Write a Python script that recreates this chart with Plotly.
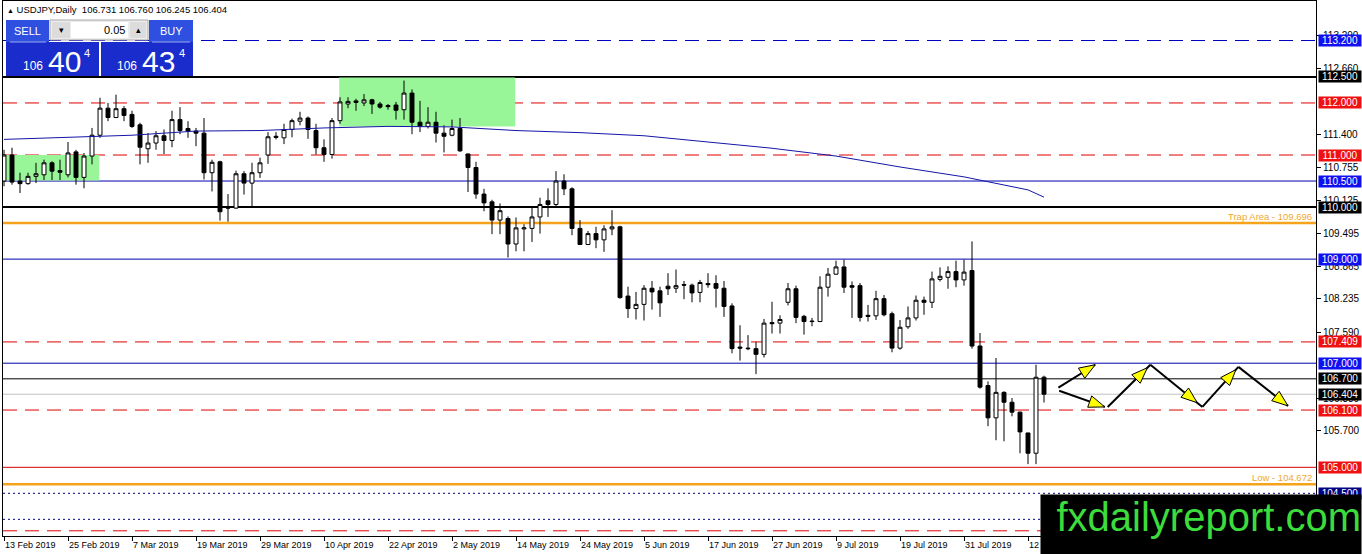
import pandas as pd
import plotly.graph_objects as go

# ---- data -------------------------------------------------------------
start_date = "2019-02-13"
end_date = "2019-08-14"
tick_dates = ["2019-02-13", "2019-02-25", "2019-03-07", "2019-03-19", "2019-03-29",
              "2019-04-10", "2019-04-22", "2019-05-02", "2019-05-14", "2019-05-24",
              "2019-06-05", "2019-06-17", "2019-06-27", "2019-07-09", "2019-07-19",
              "2019-07-31", "2019-08-12"]

opens = [110.50, 111.00, 110.50, 110.45, 110.59, 110.62, 110.85, 110.70, 110.62, 111.06,
         110.57, 110.98, 111.38, 111.90, 111.72, 111.89, 111.78, 111.58, 111.12, 111.23,
         111.37, 111.28, 111.68, 111.51, 111.46, 111.42, 110.66, 110.87, 110.00, 109.98,
         110.64, 110.46, 110.66, 111.00, 111.36, 111.33, 111.49, 111.65, 111.71, 111.47,
         111.14, 111.01, 111.66, 111.98, 112.04, 112.00, 112.06, 111.98, 111.95, 111.96,
         111.87, 112.19, 111.63, 111.55, 111.63, 111.42, 111.38, 111.51, 111.02, 110.76,
         110.25, 110.10, 109.75, 109.78, 109.29, 109.58, 109.59, 109.81, 110.12, 110.05,
         110.50, 110.35, 109.59, 109.28, 109.49, 109.37, 109.58, 109.62, 108.29, 108.05,
         108.13, 108.44, 108.39, 108.48, 108.44, 108.51, 108.50, 108.36, 108.53, 108.53,
         108.44, 108.10, 107.31, 107.29, 107.28, 107.17, 107.78, 107.77, 108.17, 108.43,
         107.90, 107.81, 107.80, 108.46, 108.71, 108.85, 108.49, 108.49, 107.92, 107.91,
         108.24, 107.95, 107.29, 107.70, 107.87, 108.21, 108.17, 108.61, 108.65, 108.76,
         108.60, 108.78, 107.33, 106.57, 105.95, 106.44, 106.25, 106.06, 105.66, 105.27,
         106.731]
highs = [111.10, 111.14, 110.66, 110.66, 110.85, 110.91, 110.88, 110.91, 111.25, 111.10,
         111.04, 111.52, 112.10, 112.00, 112.16, 111.94, 111.85, 111.62, 111.42, 111.46,
         111.49, 111.85, 111.92, 111.65, 111.52, 111.71, 110.91, 110.89, 110.25, 110.70,
         110.69, 110.85, 110.95, 111.44, 111.44, 111.60, 111.70, 111.83, 111.74, 111.60,
         111.30, 111.71, 112.11, 112.11, 112.08, 112.17, 112.08, 112.02, 111.98, 112.02,
         112.43, 112.26, 112.04, 111.92, 111.83, 111.57, 111.68, 111.71, 111.03, 110.87,
         110.35, 110.14, 110.07, 109.82, 109.80, 109.67, 110.01, 110.18, 110.36, 110.69,
         110.63, 110.38, 109.75, 109.54, 109.62, 109.65, 109.94, 109.64, 108.47, 108.37,
         108.50, 108.58, 108.47, 108.73, 108.80, 108.58, 108.53, 108.60, 108.73, 108.69,
         108.58, 108.15, 107.73, 107.54, 107.41, 107.85, 108.18, 107.92, 108.54, 108.49,
         107.93, 107.87, 108.67, 108.83, 108.97, 108.99, 108.57, 108.54, 108.12, 108.39,
         108.31, 107.99, 107.83, 108.09, 108.30, 108.28, 108.76, 108.84, 108.86, 108.97,
         108.99, 109.34, 107.58, 106.65, 107.10, 106.46, 106.33, 106.07, 105.66, 106.97,
         106.760]
lows = [110.40, 110.43, 110.27, 110.43, 110.46, 110.52, 110.52, 110.52, 110.57, 110.43,
        110.36, 110.82, 111.33, 111.65, 111.71, 111.65, 111.52, 110.82, 110.85, 111.10,
        111.02, 111.15, 111.40, 111.33, 111.17, 110.53, 110.30, 109.74, 109.72, 109.97,
        110.24, 110.02, 110.56, 110.83, 111.30, 111.21, 111.34, 111.57, 111.31, 111.01,
        110.87, 110.93, 111.60, 111.90, 111.85, 111.94, 111.79, 111.89, 111.87, 111.68,
        111.68, 111.40, 111.44, 111.51, 111.24, 111.05, 111.36, 111.06, 110.29, 110.16,
        109.92, 109.48, 109.48, 109.03, 109.15, 109.15, 109.33, 109.49, 109.81, 110.00,
        110.23, 109.46, 109.27, 109.27, 109.21, 109.14, 109.46, 108.24, 107.87, 107.84,
        107.82, 108.03, 107.89, 108.31, 108.35, 108.23, 108.17, 108.17, 108.45, 108.07,
        107.89, 107.19, 107.05, 107.25, 106.79, 107.11, 107.57, 107.57, 108.11, 107.77,
        107.55, 107.71, 107.79, 108.28, 108.70, 108.35, 107.87, 107.80, 107.80, 107.83,
        107.90, 107.21, 107.26, 107.66, 107.82, 107.93, 108.06, 108.57, 108.43, 108.46,
        108.49, 107.28, 106.51, 105.79, 105.52, 105.50, 105.98, 105.27, 105.06, 105.06,
        106.245]
closes = [111.00, 110.48, 110.45, 110.59, 110.64, 110.85, 110.69, 110.67, 111.04, 110.57,
          110.98, 111.38, 111.90, 111.72, 111.89, 111.76, 111.55, 111.15, 111.23, 111.37,
          111.28, 111.68, 111.47, 111.46, 111.42, 110.66, 110.86, 109.91, 109.98, 110.64,
          110.46, 110.66, 110.85, 111.35, 111.34, 111.49, 111.66, 111.71, 111.49, 111.14,
          111.01, 111.66, 112.02, 112.03, 112.01, 112.06, 111.98, 111.92, 111.93, 111.86,
          112.19, 111.63, 111.55, 111.63, 111.42, 111.36, 111.51, 111.08, 110.76, 110.25,
          110.08, 109.75, 109.93, 109.29, 109.60, 109.60, 109.81, 110.05, 110.05, 110.50,
          110.35, 109.59, 109.28, 109.49, 109.37, 109.58, 109.62, 108.26, 108.05, 108.13,
          108.44, 108.37, 108.16, 108.43, 108.49, 108.50, 108.35, 108.55, 108.51, 108.44,
          108.09, 107.28, 107.29, 107.28, 107.17, 107.77, 107.76, 107.84, 108.43, 107.88,
          107.80, 107.80, 108.46, 108.71, 108.85, 108.46, 108.46, 107.88, 107.90, 108.24,
          107.93, 107.29, 107.69, 107.87, 108.21, 108.17, 108.62, 108.67, 108.76, 108.60,
          108.75, 107.33, 106.54, 105.95, 106.44, 106.25, 106.06, 105.68, 105.27, 106.73,
          106.404]

# moving average read every 8 bars
ma_bars = [0, 8, 16, 24, 32, 40, 48, 56, 64, 72, 80, 88, 96, 104, 112, 120, 128, 130]
ma_values = [111.30, 111.34, 111.38, 111.46, 111.47, 111.52, 111.55, 111.54, 111.47, 111.43,
             111.37, 111.25, 111.13, 110.98, 110.77, 110.58, 110.33, 110.19]

# horizontal levels
level_prices = [113.200, 112.500, 112.000, 111.000, 110.500, 110.000, 109.696, 109.000,
                107.409, 107.000, 106.700, 106.404, 106.100, 105.000, 104.672, 104.500,
                104.000, 103.780]
level_colors = ["#0000c0", "#000000", "#e00000", "#e00000", "#0000b0", "#000000", "#f5a31a",
                "#0000b0", "#e00000", "#0000b0", "#000000", "#c0c0c0", "#e00000", "#d00000",
                "#f5a31a", "#000080", "#000080", "#e00000"]
level_widths = [1, 2, 1, 1, 1, 2, 2.5, 1, 1, 1, 1, 1, 1, 1, 2.5, 1, 1, 1]
level_dashes = ["14px,8px", "solid", "14px,8px", "14px,8px", "solid", "solid", "solid", "solid",
                "14px,8px", "solid", "solid", "solid", "14px,8px", "solid", "solid", "2px,3px",
                "2px,3px", "14px,8px"]

# price tags on the right scale
tag_prices = [113.200, 112.500, 112.000, 111.000, 110.500, 110.000, 109.000, 107.409,
              107.000, 106.700, 106.404, 106.100, 105.000, 104.500]
tag_colors = ["#1010f0", "#000000", "#f01010", "#f01010", "#1010f0", "#000000", "#1010f0",
              "#f01010", "#1010f0", "#000000", "#000000", "#f01010", "#f01010", "#000080"]

# visible ticks of the price scale
y_ticks = [113.290, 112.660, 111.400, 110.755, 110.125, 109.495, 108.865,
           108.235, 107.590, 106.330, 105.700]

# green zones (bar from, bar to, price low, price high)
zone_x0 = [-0.2, 41.9]
zone_x1 = [11.9, 63.9]
zone_y0 = [110.51, 111.55]
zone_y1 = [111.00, 112.49]

# projected path arrows (bar, price)
arrow_x0 = [131.8, 131.9, 137.96, 143.3, 149.8, 154.3]
arrow_y0 = [106.53, 106.47, 106.16, 106.97, 106.16, 106.93]
arrow_x1 = [136.4, 137.6, 143.3, 149.8, 154.3, 160.5]
arrow_y1 = [106.97, 106.16, 106.97, 106.16, 106.93, 106.18]
arrow_tip = [1.0, 1.0, 0.93, 0.9, 0.93, 1.0]

# ---- geometry ----------------------------------------------------------
W, H = 1362, 554
ML, MR, MT, MB = 3, 46, 1, 18
PW, PH = W - ML - MR, H - MT - MB
X_RANGE = [-0.125, -0.125 + PW / 8]
Y_RANGE = [103.68, 113.959]
PX_PER_BAR = PW / (X_RANGE[1] - X_RANGE[0])
PX_PER_PRICE = PH / (Y_RANGE[1] - Y_RANGE[0])


def pxx(px):
    return (px - ML) / PW


def pxy(py):
    return (MT + PH - py) / PH


dates = pd.bdate_range(start_date, end_date)
bars = list(range(len(dates)))
tick_vals = [dates.get_loc(pd.Timestamp(d)) for d in tick_dates]
tick_text = [f"{pd.Timestamp(d).day} {pd.Timestamp(d):%b %Y}" for d in tick_dates]

fig = go.Figure()

fig.add_trace(go.Candlestick(
    x=bars, open=opens, high=highs, low=lows, close=closes,
    increasing=dict(line=dict(color="black", width=1), fillcolor="white"),
    decreasing=dict(line=dict(color="black", width=1), fillcolor="black"),
    whiskerwidth=0, hoverinfo="skip", showlegend=False,
))

fig.add_trace(go.Scatter(
    x=ma_bars, y=ma_values, mode="lines",
    line=dict(color="#1515a8", width=1), hoverinfo="skip", showlegend=False,
))

shapes = []
for x0, x1, y0, y1 in zip(zone_x0, zone_x1, zone_y0, zone_y1):
    shapes.append(dict(type="rect", xref="x", yref="y", x0=x0, x1=x1, y0=y0, y1=y1,
                       fillcolor="#98f598", line=dict(width=0), layer="below"))

for p, c, w, d in zip(level_prices, level_colors, level_widths, level_dashes):
    shapes.append(dict(type="line", xref="paper", yref="y", x0=0, x1=1, y0=p, y1=p,
                       line=dict(color=c, width=w, dash=d), layer="below"))

# arrows: black lines with yellow heads
HEAD_LEN, HEAD_W = 16, 6
for x0, y0, x1, y1, t in zip(arrow_x0, arrow_y0, arrow_x1, arrow_y1, arrow_tip):
    shapes.append(dict(type="line", xref="x", yref="y", x0=x0, y0=y0, x1=x1, y1=y1,
                       line=dict(color="black", width=2), layer="above"))
    dx = (x1 - x0) * PX_PER_BAR
    dy = (y1 - y0) * PX_PER_PRICE
    n = (dx ** 2 + dy ** 2) ** 0.5
    ux, uy = dx / n, dy / n
    tx = x0 + t * (x1 - x0)
    ty = y0 + t * (y1 - y0)
    bx = tx - HEAD_LEN * ux / PX_PER_BAR
    by = ty - HEAD_LEN * uy / PX_PER_PRICE
    ax, ay = bx - HEAD_W * uy / PX_PER_BAR, by + HEAD_W * ux / PX_PER_PRICE
    cx, cy = bx + HEAD_W * uy / PX_PER_BAR, by - HEAD_W * ux / PX_PER_PRICE
    shapes.append(dict(type="path", xref="x", yref="y",
                       path=f"M {tx} {ty} L {ax} {ay} L {cx} {cy} Z",
                       fillcolor="#ffff00", line=dict(color="black", width=1), layer="above"))


# one-click trading panel
def prect(x0, y0, x1, y1, fill, line_color=None):
    return dict(type="rect", xref="paper", yref="paper",
                x0=pxx(x0), x1=pxx(x1), y0=pxy(y1), y1=pxy(y0),
                fillcolor=fill, layer="above",
                line=dict(width=1 if line_color else 0, color=line_color or fill))


shapes += [
    prect(6, 20, 49, 42, "#2f4fe0"),
    prect(149, 20, 193, 42, "#2f4fe0"),
    prect(6, 42, 99, 76, "#1a2ccc"),
    prect(101, 42, 193, 76, "#1a2ccc"),
    prect(50, 20, 148, 40, "#ececec", "#a8a8a8"),
    prect(52, 22, 70, 38, "#dcdcdc"),
    prect(71, 22, 128, 38, "#ffffff"),
    prect(130, 22, 146, 38, "#dcdcdc"),
    dict(type="line", xref="paper", yref="paper", x0=pxx(10), x1=pxx(46), y0=pxy(42), y1=pxy(42),
         line=dict(color="#9aaaf0", width=1), layer="above"),
    dict(type="line", xref="paper", yref="paper", x0=pxx(152), x1=pxx(190), y0=pxy(42), y1=pxy(42),
         line=dict(color="#9aaaf0", width=1), layer="above"),
]

FONT = "Liberation Sans"
ann = []


def ptext(px, py, text, size, color, anchor="center"):
    ann.append(dict(xref="paper", yref="paper", x=pxx(px), y=pxy(py), text=text,
                    showarrow=False, xanchor=anchor, yanchor="middle",
                    font=dict(family=FONT, size=size, color=color)))


ptext(5, 10, "<span style='font-size:7px'>▲</span> USDJPY,Daily  106.731 106.760 106.245 106.404",
      9.5, "black", "left")
ptext(27, 31, "SELL", 11, "white")
ptext(171, 31, "BUY", 11, "white")
ptext(127, 30, "0.05", 11, "black", "right")
ptext(61, 30, "▾", 9, "black")
ptext(138, 30, "▴", 9, "black")
ptext(33, 66, "106", 12, "white")
ptext(64, 61, "40", 30, "white")
ptext(87, 53, "4", 11, "white")
ptext(127, 66, "106", 12, "white")
ptext(158, 61, "43", 30, "white")
ptext(182, 53, "4", 11, "white")

ann.append(dict(xref="paper", yref="y", x=pxx(1314), y=109.696, yshift=6, text="Trap Area - 109.696",
                showarrow=False, xanchor="right", yanchor="middle",
                font=dict(family=FONT, size=9.5, color="#f0a830")))
ann.append(dict(xref="paper", yref="y", x=pxx(1314), y=104.672, yshift=7, text="Low - 104.672",
                showarrow=False, xanchor="right", yanchor="middle",
                font=dict(family=FONT, size=9.5, color="#f0a830")))

for p, c in zip(tag_prices, tag_colors):
    ann.append(dict(xref="paper", yref="y", x=pxx(1318), y=p, text=f"{p:.3f}",
                    showarrow=False, xanchor="left", yanchor="middle", align="center",
                    width=42, height=11, borderpad=0, bgcolor=c,
                    font=dict(family=FONT, size=10, color="white")))

ann.append(dict(xref="paper", yref="paper", x=pxx(1040), y=pxy(494), text="fxdailyreport.com",
                showarrow=False, xanchor="left", yanchor="top", align="right", valign="top",
                width=320, height=62, borderpad=0, bgcolor="black",
                font=dict(family=FONT, size=40, color="#3ddc3d")))

fig.update_layout(
    width=W, height=H,
    margin=dict(l=ML, r=MR, t=MT, b=MB, pad=0),
    paper_bgcolor="white", plot_bgcolor="white",
    font=dict(family=FONT, size=10, color="black"),
    showlegend=False, hovermode=False,
    shapes=shapes, annotations=ann,
    xaxis=dict(range=X_RANGE, rangeslider=dict(visible=False), showgrid=False, zeroline=False,
               showline=True, linecolor="black", linewidth=1, mirror=True,
               ticks="outside", ticklen=4, tickcolor="black",
               tickvals=tick_vals, ticktext=tick_text, ticklabelposition="outside right",
               tickfont=dict(family=FONT, size=9, color="black"), fixedrange=True),
    yaxis=dict(range=Y_RANGE, side="right", showgrid=False, zeroline=False,
               showline=True, linecolor="black", linewidth=1, mirror=True,
               ticks="outside", ticklen=4, tickcolor="black",
               tickvals=y_ticks, ticktext=[f"{v:.3f}" for v in y_ticks],
               tickfont=dict(family=FONT, size=10, color="black"), fixedrange=True),
)

# the page has a default body margin; drop it so the chart sits at the window corner
fig.write_html("out.html", config={"staticPlot": True},
               post_script="document.body.style.margin='0';")
